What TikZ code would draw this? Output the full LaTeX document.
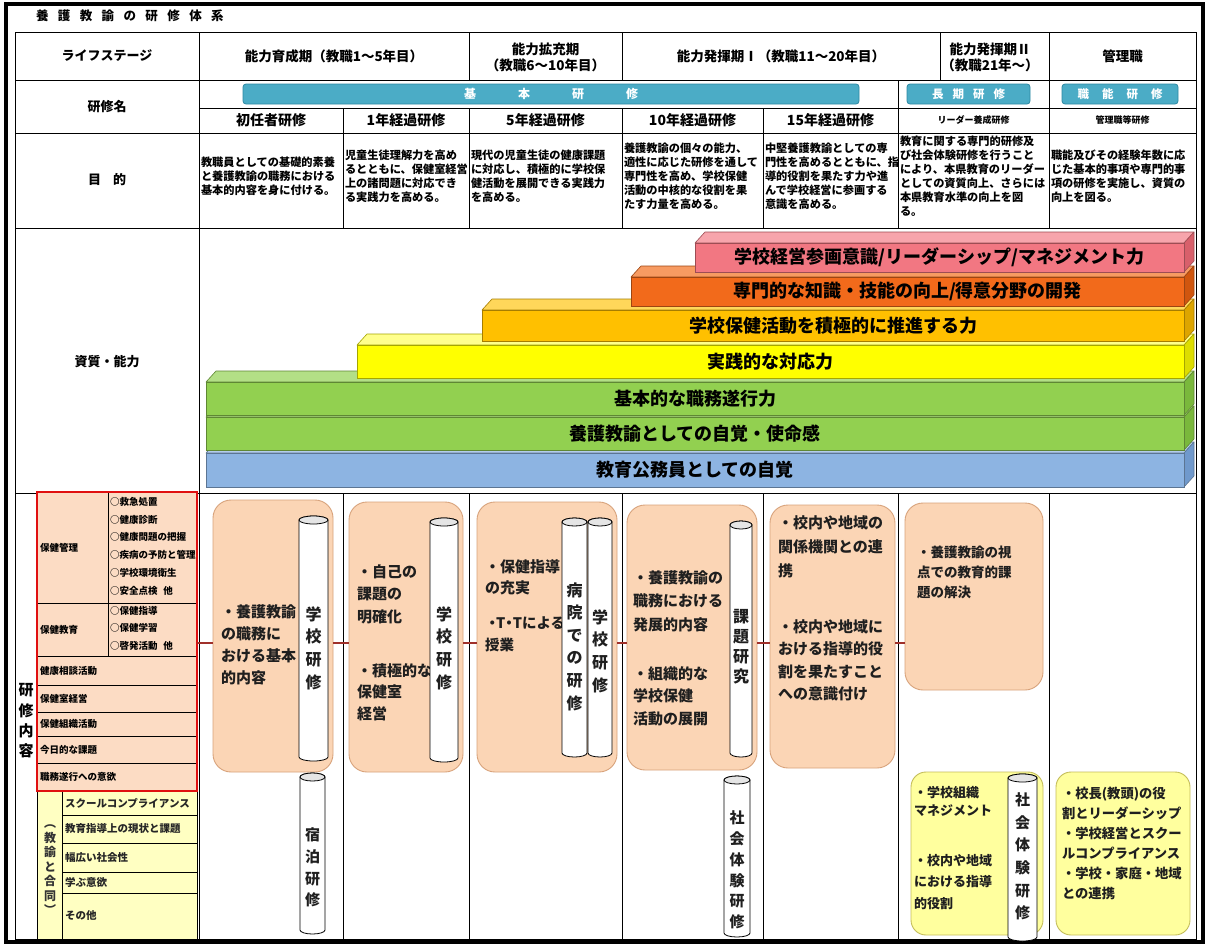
\documentclass[tikz,border=0pt]{standalone}
\usepackage{fontspec}
\setmainfont{Noto Sans CJK JP}
\definecolor{peach}{HTML}{FBD5B5}
\definecolor{peachline}{HTML}{D8A37C}
\definecolor{lpeach}{HTML}{FCDCC4}
\definecolor{boxred}{HTML}{E01010}
\definecolor{lyel}{HTML}{FFFFC2}
\definecolor{ybfill}{HTML}{FFFF9E}
\definecolor{yline}{HTML}{C4BD5A}
\definecolor{kbar}{HTML}{4BACC6}
\definecolor{kbarline}{HTML}{2D89A3}
\definecolor{cpink}{HTML}{F27782}
\definecolor{cpinkT}{HTML}{F7A5AC}
\definecolor{cpinkS}{HTML}{D8606B}
\definecolor{corg}{HTML}{F26A1B}
\definecolor{corgT}{HTML}{F79B62}
\definecolor{corgS}{HTML}{D0560F}
\definecolor{cgold}{HTML}{FFC000}
\definecolor{cgoldT}{HTML}{FFD75A}
\definecolor{cgoldS}{HTML}{DDA500}
\definecolor{cyel}{HTML}{FFFF00}
\definecolor{cyelT}{HTML}{FFFF8C}
\definecolor{cyelS}{HTML}{DDDD00}
\definecolor{cgrn}{HTML}{92D050}
\definecolor{cgrnT}{HTML}{B3DF86}
\definecolor{cgrnS}{HTML}{7AB83C}
\definecolor{cblu}{HTML}{8DB4E2}
\definecolor{cbluT}{HTML}{B3CDEC}
\definecolor{cbluS}{HTML}{7099CC}
\definecolor{connred}{HTML}{A0302A}
\tikzset{
  every node/.style={inner sep=0pt, outer sep=0pt},
  gridl/.style={draw=black, line width=0.9pt},
  hd/.style={align=center, font=\bfseries\fontsize{13.5}{16}\selectfont},
  lbl/.style={font=\bfseries\fontsize{13}{16}\selectfont},
  sublbl/.style={font=\bfseries\fontsize{14}{16}\selectfont},
  sublbls/.style={font=\bfseries\fontsize{9}{11}\selectfont},
  purp/.style={anchor=west, align=left, font=\bfseries\fontsize{11.2}{14}\selectfont},
  kbarst/.style={draw=kbarline, fill=kbar, rounded corners=3pt, line width=0.8pt, text=white, font=\bfseries\fontsize{12}{14}\selectfont},
  bartxt/.style={font=\bfseries\fontsize{18}{20}\selectfont},
  peachbox/.style={draw=peachline, fill=peach, rounded corners=18pt, line width=0.9pt},
  yelbox/.style={draw=yline, fill=ybfill, rounded corners=15pt, line width=0.9pt},
  btxt/.style={anchor=west, align=left, text=black!88, font=\bfseries\fontsize{15}{22.5}\selectfont},
  vtx/.style={align=center, text=black!88, font=\bfseries\fontsize{16}{22.6}\selectfont},
  smalltx/.style={anchor=west, font=\bfseries\fontsize{9.5}{11}\selectfont},
  ytx/.style={anchor=west, text=black!85, font=\bfseries\fontsize{10.5}{12}\selectfont},
  connline/.style={draw=connred, line width=1.8pt},
}
\newcommand\capbar[8]{%
  \filldraw[fill=#6, draw=#5!65!black, line width=0.6pt, line join=round] (#2,#3) -- (#2+10,#3-11) -- (1194,#3-11) -- (1184,#3) -- cycle;
  \filldraw[fill=#7, draw=#5!65!black, line width=0.6pt, line join=round] (1184,#3) -- (1194,#3-11) -- (1194,#4-11) -- (1184,#4) -- cycle;
  \filldraw[fill=#5, draw=#5!65!black, line width=0.6pt] (#2,#3) rectangle (1184,#4);
  \node[bartxt] (#1) at ({(#2+1184)/2},{(#3+#4)/2}) {#8};
}
\newcommand\cylpipe[4]{%
  \filldraw[fill=white, draw=black, line width=0.8pt] (#1,#3) -- (#1,#4) arc[start angle=180, end angle=360, x radius={(#2-#1)/2*1pt}, y radius=4pt] -- (#2,#3) arc[start angle=0, end angle=180, x radius={(#2-#1)/2*1pt}, y radius=4pt] -- cycle;
  \filldraw[fill=black!10, draw=black, line width=0.8pt] ({(#1+#2)/2},#3) ellipse[x radius={(#2-#1)/2*1pt}, y radius=4pt];
}
\newcommand\tdot{\kern-3.5pt・\kern-3.5pt}
\begin{document}
\begin{tikzpicture}[x=1pt,y=-1pt]
\useasboundingbox (0,0) rectangle (1209,946);
\fill[white] (0,0) rectangle (1209,946);
% frames
\draw[line width=3.5pt] (6,4) rectangle (1203,942);
\node[anchor=west, font=\bfseries\fontsize{12.5}{14}\selectfont] (title) at (36,16) {養\hspace{9.4pt}護\hspace{9.4pt}教\hspace{9.4pt}諭\hspace{9.4pt}の\hspace{9.4pt}研\hspace{9.4pt}修\hspace{9.4pt}体\hspace{9.4pt}系};
\draw[gridl] (15,32) rectangle (1196,939);
% horizontal rules
\draw[gridl] (15,80) -- (1196,80);
\draw[gridl] (199,108) -- (1196,108);
\draw[gridl] (15,133) -- (1196,133);
\draw[gridl] (15,228) -- (1196,228);
\draw[gridl] (15,493) -- (1196,493);
% vertical rules
\draw[gridl] (199,32) -- (199,939);
\foreach \xx in {469,622,940,1049} {\draw[gridl] (\xx,32) -- (\xx,80);}
\foreach \xx in {898,1049} {\draw[gridl] (\xx,80) -- (\xx,108);}
\foreach \xx in {343,469,622,763,898,1049} {\draw[gridl] (\xx,108) -- (\xx,228); \draw[gridl] (\xx,493) -- (\xx,939);}
% header row
\node[lbl] (hLS) at (107,56) {ライフステージ};
\node[hd] (h1) at (334,56) {能力育成期（教職1～5年目）};
\node[hd] (h2) at (545.5,57) {能力拡充期\\（教職6～10年目）};
\node[hd] (h3) at (781,56) {能力発揮期Ⅰ（教職11～20年目）};
\node[hd] (h4) at (990,57) {能力発揮期Ⅱ\\（教職21年～）};
\node[hd] (h5) at (1122.5,56) {管理職};
% training names
\node[lbl] (hKM) at (107,107) {研修名};
\node[kbarst, minimum width=616pt, minimum height=20pt] (kihon) at (551,94) {基\hspace{42pt}本\hspace{42pt}研\hspace{42pt}修};
\node[kbarst, minimum width=123pt, minimum height=20pt, font=\bfseries\fontsize{11.5}{13}\selectfont] (choki) at (968.5,94) {長\hspace{9pt}期\hspace{9pt}研\hspace{9pt}修};
\node[kbarst, minimum width=116pt, minimum height=20pt, font=\bfseries\fontsize{11.5}{13}\selectfont] (shokuno) at (1120,94) {職\hspace{13pt}能\hspace{13pt}研\hspace{13pt}修};
\node[sublbl] (s1) at (271,120.5) {初任者研修};
\node[sublbl] (s2) at (406,120.5) {1年経過研修};
\node[sublbl] (s3) at (545.5,120.5) {5年経過研修};
\node[sublbl] (s4) at (692.5,120.5) {10年経過研修};
\node[sublbl] (s5) at (830.5,120.5) {15年経過研修};
\node[sublbls] (s6) at (973.5,120.5) {リーダー養成研修};
\node[sublbls] (s7) at (1122.5,120.5) {管理職等研修};
% purposes
\node[lbl] (hMT) at (107,180) {目\hspace{12pt}的};
\node[purp] (p1) at (201,176) {教職員としての基礎的素養\\と養護教諭の職務における\\基本的内容を身に付ける。};
\node[purp] (p2) at (345,176) {児童生徒理解力を高め\\るとともに、保健室経営\\上の諸問題に対応でき\\る実践力を高める。};
\node[purp] (p3) at (471,176) {現代の児童生徒の健康課題\\に対応し、積極的に学校保\\健活動を展開できる実践力\\を高める。};
\node[purp] (p4) at (624,176) {養護教諭の個々の能力、\\適性に応じた研修を通して\\専門性を高め、学校保健\\活動の中核的な役割を果\\たす力量を高める。};
\node[purp] (p5) at (765,176) {中堅養護教諭としての専\\門性を高めるとともに、指\\導的役割を果たす力や進\\んで学校経営に参画する\\意識を高める。};
\node[purp] (p6) at (900,176) {教育に関する専門的研修及\\び社会体験研修を行うこと\\により、本県教育のリーダー\\としての資質向上、さらには\\本県教育水準の向上を図\\る。};
\node[purp] (p7) at (1051,176) {職能及びその経験年数に応\\じた基本的事項や専門的事\\項の研修を実施し、資質の\\向上を図る。};
% qualities
\node[lbl] (hSS) at (107,362) {資質・能力};
\capbar{q1}{206}{453}{487}{cblu}{cbluT}{cbluS}{教育公務員としての自覚}
\capbar{q2}{206}{417}{450}{cgrn}{cgrnT}{cgrnS}{養護教諭としての自覚・使命感}
\capbar{q3}{206}{382}{415}{cgrn}{cgrnT}{cgrnS}{基本的な職務遂行力}
\capbar{q4}{357}{345}{378}{cyel}{cyelT}{cyelS}{実践的な対応力}
\capbar{q5}{482}{310}{341}{cgold}{cgoldT}{cgoldS}{学校保健活動を積極的に推進する力}
\capbar{q6}{631}{277}{306}{corg}{corgT}{corgS}{専門的な知識・技能の向上/得意分野の開発}
\capbar{q7}{695}{243}{272}{cpink}{cpinkT}{cpinkS}{学校経営参画意識/リーダーシップ/マネジメント力}
% training content: left column
\node[align=center, font=\bfseries\fontsize{15}{20.3}\selectfont] (hKN) at (26,721) {研\\修\\内\\容};
\fill[lyel] (37,791) rectangle (197,939);
\draw[black, line width=0.6pt] (37,791) rectangle (197,939);
\draw[black, line width=0.6pt] (62,791) -- (62,939);
\foreach \yy in {815,843,872,893} {\draw[black, line width=0.6pt] (62,\yy) -- (197,\yy);}
\node[align=center, text=black!80, font=\bfseries\fontsize{12}{14.5}\selectfont] (gd) at (50,870) {︵\\教\\諭\\と\\合\\同\\︶};
\node[ytx] (y1) at (65,803) {スクールコンプライアンス};
\node[ytx] (y2) at (65,829) {教育指導上の現状と課題};
\node[ytx] (y3) at (65,857.5) {幅広い社会性};
\node[ytx] (y4) at (65,882.5) {学ぶ意欲};
\node[ytx] (y5) at (65,916) {その他};
\node[fill=lpeach, minimum width=160pt, minimum height=299pt] (lbox) at (117,641.5) {};
\draw[black, line width=0.8pt] (108,492) -- (108,656);
\foreach \yy in {603,656,685,712,736,763} {\draw[black, line width=0.8pt] (37,\yy) -- (197,\yy);}
\draw[boxred, line width=2.5pt] (lbox.north west) rectangle (lbox.south east);
\node[smalltx] (k1) at (40,548) {保健管理};
\node[smalltx] (k1a) at (110,502) {○救急処置};
\node[smalltx] (k1b) at (110,519.5) {○健康診断};
\node[smalltx] (k1c) at (110,537) {○健康問題の把握};
\node[smalltx] (k1d) at (110,554.5) {○疾病の予防と管理};
\node[smalltx] (k1e) at (110,572.5) {○学校環境衛生};
\node[smalltx] (k1f) at (110,591) {○安全点検\hspace{6pt}他};
\node[smalltx] (k2) at (40,630) {保健教育};
\node[smalltx] (k2a) at (110,611) {○保健指導};
\node[smalltx] (k2b) at (110,628) {○保健学習};
\node[smalltx] (k2c) at (110,646) {○啓発活動\hspace{6pt}他};
\node[smalltx] (k3) at (40,670.5) {健康相談活動};
\node[smalltx] (k4) at (40,698.5) {保健室経営};
\node[smalltx] (k5) at (40,724) {保健組織活動};
\node[smalltx] (k6) at (40,750) {今日的な課題};
\node[smalltx] (k7) at (40,777) {職務遂行への意欲};
% peach boxes
\node[peachbox, minimum width=120pt, minimum height=272pt] (bA) at (273,636) {};
\node[peachbox, minimum width=114pt, minimum height=270pt] (bB) at (406,637) {};
\node[peachbox, minimum width=140pt, minimum height=270pt] (bC) at (547,637) {};
\node[peachbox, minimum width=130pt, minimum height=265pt] (bD) at (692,637.5) {};
\node[peachbox, minimum width=125pt, minimum height=263pt] (bE) at (832.5,636.5) {};
\node[peachbox, minimum width=138pt, minimum height=187pt] (bF) at (974,596.5) {};
\node[yelbox, minimum width=132pt, minimum height=163pt] (bG) at (977,853.5) {};
\node[yelbox, minimum width=134pt, minimum height=163pt] (bH) at (1123,853.5) {};
% connectors
\coordinate (cy) at (0,643);
\draw[connline] (lbox.east |- cy) -- (bA.west |- cy);
\draw[connline] (bA.east |- cy) -- (bB.west |- cy);
\draw[connline] (bB.east |- cy) -- (bC.west |- cy);
\draw[connline] (bC.east |- cy) -- (bD.west |- cy);
\draw[connline] (bD.east |- cy) -- (bE.west |- cy);
\draw[connline] (bE.east |- cy) -- (bF.west |- cy);
% box texts
\node[btxt, font=\bfseries\fontsize{15}{22}\selectfont] (tA) at (221,645) {・養護教諭\\の職務に\\おける基本\\的内容};
\node[btxt] (tB1) at (357,594) {・自己の\\課題の\\明確化};
\node[btxt, font=\bfseries\fontsize{15}{21.5}\selectfont] (tB2) at (357,692) {・積極的な\\保健室\\経営};
\node[btxt, font=\bfseries\fontsize{15}{21.5}\selectfont] (tC1) at (485,577.5) {・保健指導\\の充実};
\node[btxt, font=\bfseries\fontsize{14.5}{22}\selectfont] (tC2) at (485,634) {・\kern-3.5pt T\tdot Tによる\\授業};
\node[btxt, font=\bfseries\fontsize{15}{23.5}\selectfont] (tD1) at (633,601) {・養護教諭の\\職務における\\発展的内容};
\node[btxt, font=\bfseries\fontsize{15}{22.5}\selectfont] (tD2) at (633,696) {・組織的な\\学校保健\\活動の展開};
\node[btxt, font=\bfseries\fontsize{15}{24}\selectfont] (tE1) at (778,547) {・校内や地域の\\関係機関との連\\携};
\node[btxt, font=\bfseries\fontsize{15}{22.5}\selectfont] (tE2) at (778,660.5) {・校内や地域に\\おける指導的役\\割を果たすこと\\への意識付け};
\node[btxt, font=\bfseries\fontsize{13.5}{20}\selectfont] (tF) at (917,572) {・養護教諭の視\\点での教育的課\\題の解決};
\node[btxt, font=\bfseries\fontsize{13}{18}\selectfont] (tG1) at (914,801) {・学校組織\\マネジメント};
\node[btxt, font=\bfseries\fontsize{13}{21.5}\selectfont] (tG2) at (914,882) {・校内や地域\\における指導\\的役割};
\node[btxt, font=\bfseries\fontsize{13.3}{20}\selectfont] (tH) at (1062,843) {・校長(教頭)の役\\割とリーダーシップ\\・学校経営とスクー\\ルコンプライアンス\\・学校・家庭・地域\\との連携};
% cylinders
\cylpipe{299}{328}{520}{757}
\cylpipe{430}{458}{522}{758}
\cylpipe{562}{587}{522}{753}
\cylpipe{588}{612}{522}{753}
\cylpipe{730}{752}{525}{753}
\cylpipe{300}{325}{777}{930}
\cylpipe{724}{750}{780}{933}
\cylpipe{1008}{1037}{778}{937}
\node[vtx] (cA) at (313.5,648) {学\\校\\研\\修};
\node[vtx] (cB) at (444,648) {学\\校\\研\\修};
\node[vtx] (cC1) at (574.5,646.5) {病\\院\\で\\の\\研\\修};
\node[vtx] (cC2) at (600,651) {学\\校\\研\\修};
\node[vtx, font=\bfseries\fontsize{16}{20}\selectfont] (cD) at (741,647) {課\\題\\研\\究};
\node[vtx, font=\bfseries\fontsize{15}{21.7}\selectfont] (cS) at (312.5,867.5) {宿\\泊\\研\\修};
\node[vtx, font=\bfseries\fontsize{15}{20.8}\selectfont] (cSD) at (737,870) {社\\会\\体\\験\\研\\修};
\node[vtx, font=\bfseries\fontsize{15}{22.6}\selectfont] (cSG) at (1022.5,856.5) {社\\会\\体\\験\\研\\修};
\end{tikzpicture}
\end{document}
